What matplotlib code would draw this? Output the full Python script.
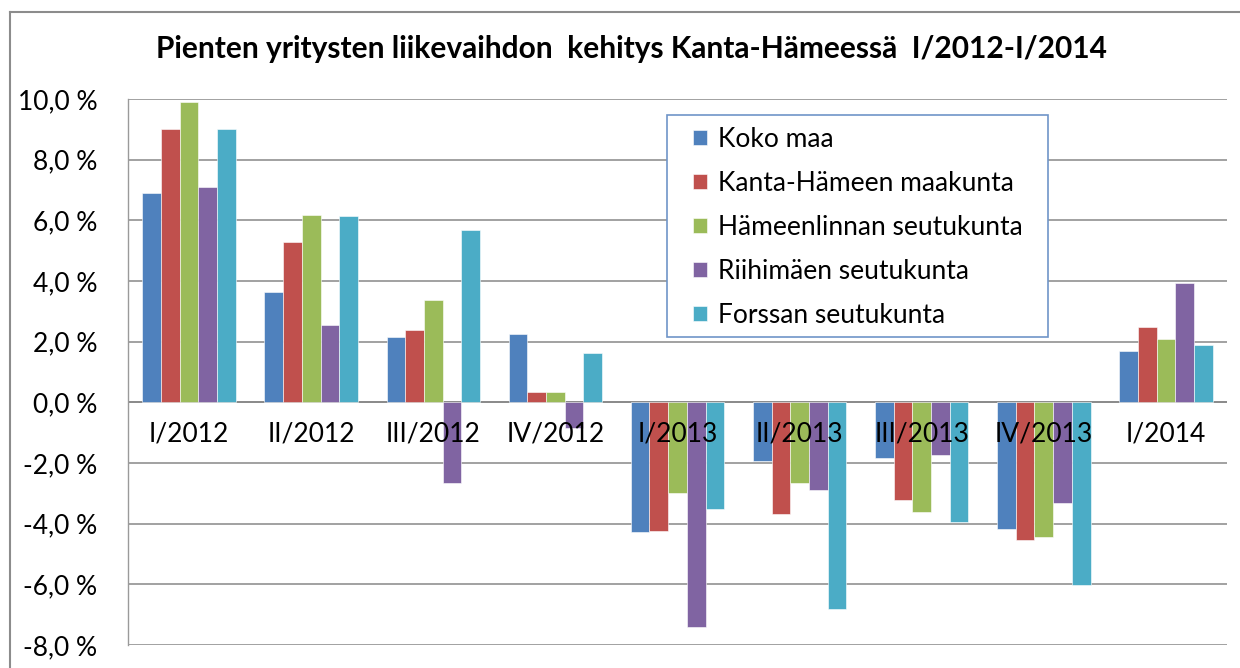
import numpy as np
import matplotlib.pyplot as plt
from matplotlib.lines import Line2D
from matplotlib.patches import Rectangle

plt.rcParams["font.family"] = ["Lato", "DejaVu Sans"]

# Quarters and growth of turnover (%) for each region
quarters = ["I/2012", "II/2012", "III/2012", "IV/2012", "I/2013",
            "II/2013", "III/2013", "IV/2013", "I/2014"]
koko_maa = [6.90, 3.63, 2.15, 2.25, -4.29, -1.93, -1.82, -4.19, 1.70]
kanta_hame = [9.00, 5.27, 2.37, 0.35, -4.25, -3.68, -3.21, -4.54, 2.50]
hameenlinna = [9.91, 6.19, 3.38, 0.35, -3.00, -2.65, -3.62, -4.43, 2.09]
riihimaki = [7.10, 2.56, -2.65, -0.86, -7.42, -2.90, -1.72, -3.32, 3.95]
forssa = [9.00, 6.13, 5.67, 1.63, -3.52, -6.81, -3.93, -6.03, 1.90]

series_names = ["Koko maa", "Kanta-Hämeen maakunta", "Hämeenlinnan seutukunta",
                "Riihimäen seutukunta", "Forssan seutukunta"]
series = [koko_maa, kanta_hame, hameenlinna, riihimaki, forssa]
colors = ["#4F81BD", "#C0504D", "#9BBB59", "#8064A2", "#4BACC6"]

yticks = [10, 8, 6, 4, 2, 0, -2, -4, -6, -8]
ytick_labels = ["10,0 %", "8,0 %", "6,0 %", "4,0 %", "2,0 %", "0,0 %",
                "-2,0 %", "-4,0 %", "-6,0 %", "-8,0 %"]

W, H = 1240, 668
fig = plt.figure(figsize=(W / 100, H / 100), dpi=100)
ax = fig.add_axes([128 / W, 1 - 645 / H, 1099 / W, 546 / H])

x = np.arange(len(quarters))
bw = 0.153
for k, (vals, name, c) in enumerate(zip(series, series_names, colors)):
    ax.bar(x + (k - 2) * bw, vals, bw, color=c, label=name,
           edgecolor="#ffffff", linewidth=0.4, zorder=3)

ax.set_xlim(-0.5, len(quarters) - 0.5)
ax.set_ylim(-8, 10)
ax.set_yticks(yticks)
ax.set_yticklabels(ytick_labels, fontsize=19)
ax.tick_params(axis="y", length=0, pad=22)
ax.set_xticks([])
ax.grid(axis="y", color="#9a9a9a", linewidth=1.3, zorder=0)
ax.axhline(0, color="#8a8a8a", linewidth=1.3, zorder=2)
for side in ["top", "right", "bottom"]:
    ax.spines[side].set_visible(False)
ax.spines["left"].set_color("#9a9a9a")
ax.spines["left"].set_linewidth(1.0)

# category labels just under the zero line
for i, q in enumerate(quarters):
    ax.annotate(q, (i, 0), xytext=(0, -14), textcoords="offset points",
                ha="center", va="top", fontsize=19, zorder=5)

fig.text(631 / W, 1 - 49 / H,
         "Pienten yritysten liikevaihdon  kehitys Kanta-Hämeessä  I/2012-I/2014",
         ha="center", va="center", fontsize=21.5, fontweight="bold")

# legend box drawn separately so the padding can be wider on the sides
box = Rectangle((667 / W, 1 - 337 / H), 381 / W, 222 / H, transform=fig.transFigure,
                facecolor="white", edgecolor="#6f95c8", linewidth=1.2, zorder=9,
                clip_on=False)
ax.add_patch(box)
leg = ax.legend(loc="upper left", bbox_to_anchor=(693 / W, 1 - 127 / H),
                bbox_transform=fig.transFigure, borderaxespad=0, borderpad=0,
                frameon=False, fontsize=19, handlelength=0.53,
                handleheight=0.53, handletextpad=0.42, labelspacing=0.72)
leg.set_zorder(10)

# outer chart border
fig.add_artist(Line2D([10 / W, 10 / W], [0, 1 - 12 / H], transform=fig.transFigure,
                      color="#8c8c8c", linewidth=1.5))
fig.add_artist(Line2D([10 / W, 1], [1 - 12 / H, 1 - 12 / H], transform=fig.transFigure,
                      color="#8c8c8c", linewidth=1.5))

fig.savefig("out.png", dpi=100)
